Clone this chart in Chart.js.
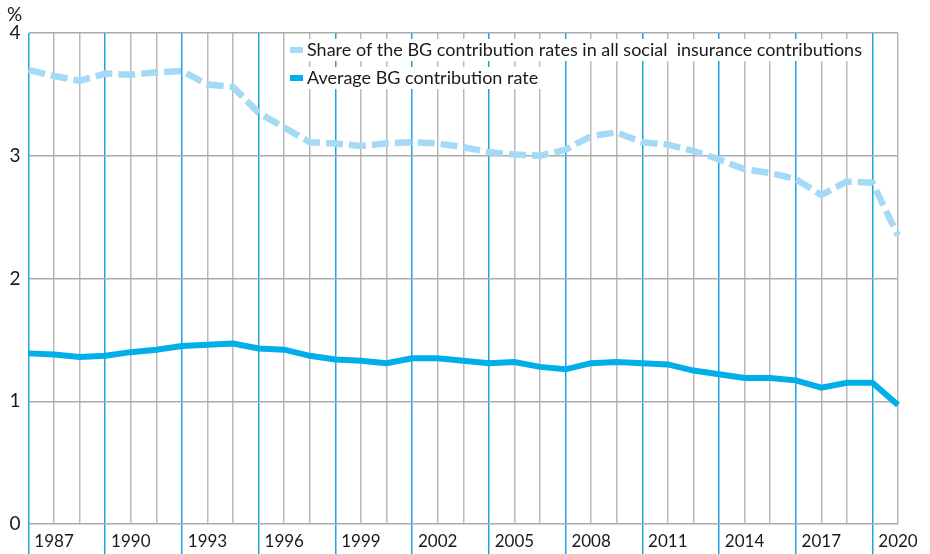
<!DOCTYPE html>
<html>
<head>
<meta charset="utf-8">
<script src="https://cdn.jsdelivr.net/npm/chart.js@4.4.0/dist/chart.umd.min.js"></script>
<style>
  html, body { margin: 0; padding: 0; background: #fff; }
  #wrap { position: relative; width: 930px; height: 554px; }
</style>
</head>
<body>
<div id="wrap"><canvas id="myChart"></canvas></div>
<script>
'use strict';

//Chart data
var years = ['1986', '1987', '1988', '1989', '1990', '1991', '1992', '1993', '1994', '1995', '1996', '1997',
  '1998', '1999', '2000', '2001', '2002', '2003', '2004', '2005', '2006', '2007', '2008', '2009', '2010',
  '2011', '2012', '2013', '2014', '2015', '2016', '2017', '2018', '2019', '2020'];

var shareOfContributions = [3.70, 3.65, 3.61, 3.67, 3.66, 3.68, 3.69, 3.58, 3.56, 3.35, 3.23, 3.11,
  3.10, 3.08, 3.10, 3.11, 3.10, 3.07, 3.03, 3.01, 3.00, 3.05, 3.16, 3.19, 3.11,
  3.09, 3.04, 2.97, 2.89, 2.86, 2.81, 2.68, 2.79, 2.78, 2.35];

var averageRate = [1.39, 1.38, 1.36, 1.37, 1.40, 1.42, 1.45, 1.46, 1.47, 1.43, 1.42, 1.37,
  1.34, 1.33, 1.31, 1.35, 1.35, 1.33, 1.31, 1.32, 1.28, 1.26, 1.31, 1.32, 1.31,
  1.30, 1.25, 1.22, 1.19, 1.19, 1.17, 1.11, 1.15, 1.15, 0.97];

var seriesNames = ['Share of the BG contribution rates in all social  insurance contributions', 'Average BG contribution rate'];
var yUnit = '%';

var lightBlue = '#a5daf7';
var strongBlue = '#00aeea';
var lineBlue = '#1ea4de';
var gridGray = '#b9b9b9';
var fontName = 'Lato, "Noto Sans", sans-serif';

//Legend drawn on white strips over the grid, plus the unit label
var legendPlugin = {
  id: 'boxLegend',
  afterDraw: function (chart) {
    var ctx = chart.ctx;
    ctx.save();
    ctx.font = '18px ' + fontName;
    ctx.textBaseline = 'middle';
    var rowY = [50, 78];
    chart.data.datasets.forEach(function (ds, i) {
      var w = ctx.measureText(ds.label).width;
      ctx.fillStyle = '#fff';
      ctx.fillRect(288, rowY[i] - 11, w + 24, 22);
      ctx.fillStyle = ds.borderColor;
      ctx.fillRect(290, rowY[i] - 3, 13, 6);
      ctx.fillStyle = '#1a1a1a';
      ctx.fillText(ds.label, 307, rowY[i]);
    });
    ctx.font = '19px ' + fontName;
    ctx.fillText(yUnit, 7, 15);
    ctx.restore();
  }
};

var ctx = document.getElementById('myChart').getContext('2d');
var chart = new Chart(ctx, {
  type: 'line',
  data: {
    labels: years,
    datasets: [{
      label: seriesNames[0],
      data: shareOfContributions,
      borderColor: lightBlue,
      borderWidth: 6.5,
      borderDash: [17, 6],
      pointRadius: 0,
      tension: 0
    }, {
      label: seriesNames[1],
      data: averageRate,
      borderColor: strongBlue,
      borderWidth: 6,
      pointRadius: 0,
      tension: 0
    }]
  },
  options: {
    responsive: true,
    maintainAspectRatio: false,
    animation: false,
    layout: { padding: { top: 33, right: 32, bottom: 0, left: 0 } },
    plugins: {
      legend: { display: false },
      tooltip: { enabled: false }
    },
    scales: {
      x: {
        offset: false,
        border: { display: false },
        afterFit: function (s) { s.height = 30; },
        grid: {
          drawTicks: true,
          tickLength: 30,
          lineWidth: 1.5,
          color: function (c) { return c.index % 3 === 0 ? lineBlue : gridGray; },
          tickColor: function (c) { return c.index % 3 === 0 ? lineBlue : 'rgba(0,0,0,0)'; },
          tickWidth: 1.5
        },
        ticks: {
          autoSkip: false,
          maxRotation: 0,
          minRotation: 0,
          padding: -23,
          color: '#1a1a1a',
          font: { family: fontName, size: 17 },
          callback: function (val, i) { return i % 3 === 1 ? years[i] : ''; }
        }
      },
      y: {
        min: 0,
        max: 4,
        border: { display: false },
        afterFit: function (s) { s.width = 28.5; },
        grid: {
          drawTicks: false,
          lineWidth: 1.5,
          color: '#ababab'
        },
        ticks: {
          stepSize: 1,
          padding: 8,
          color: '#1a1a1a',
          font: { family: fontName, size: 19 }
        }
      }
    }
  },
  plugins: [legendPlugin]
});
</script>
</body>
</html>
